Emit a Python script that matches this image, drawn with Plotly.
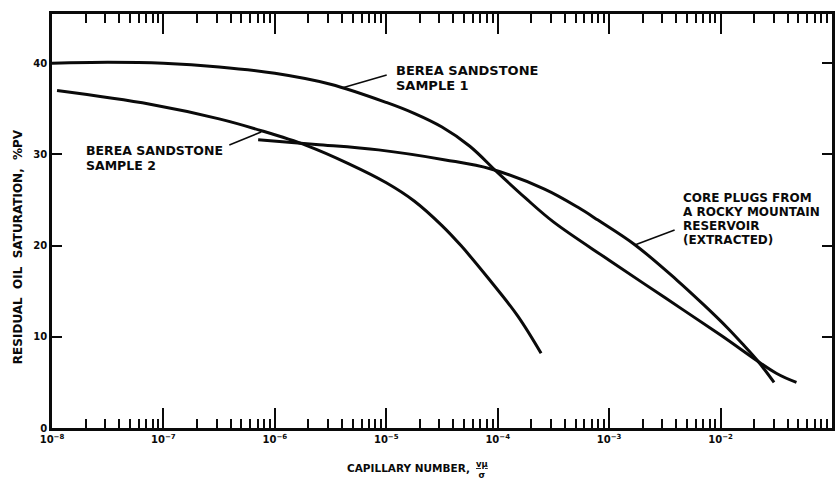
import plotly.graph_objects as go

# Capillary number (dimensionless) vs residual oil saturation (% PV)
berea1_nc = [1.0e-8, 3.16e-8, 1.0e-7, 3.16e-7, 1.0e-6, 3.16e-6, 1.0e-5, 1.78e-5,
             3.16e-5, 5.62e-5, 1.0e-4, 1.78e-4, 3.16e-4, 1.0e-3, 3.16e-3, 1.0e-2,
             3.16e-2, 4.8e-2]
berea1_sor = [40.0, 40.1, 40.0, 39.6, 38.9, 37.7, 35.7, 34.5,
              33.0, 30.9, 28.0, 25.2, 22.6, 18.4, 14.3, 10.2,
              6.0, 5.0]

berea2_nc = [1.11e-8, 7.59e-8, 3.16e-7, 7.59e-7, 1.91e-6, 4.57e-6, 1.0e-5, 1.78e-5,
             3.16e-5, 4.68e-5, 8.13e-5, 1.51e-4, 2.45e-4]
berea2_sor = [37.0, 35.5, 33.9, 32.6, 31.0, 29.0, 26.9, 24.9,
              22.2, 20.0, 16.5, 12.3, 8.2]

rocky_nc = [7.08e-7, 2.34e-6, 8.51e-6, 3.39e-5, 8.71e-5, 2.63e-4, 5.25e-4,
            7.94e-4, 1.70e-3, 4.07e-3, 7.08e-3, 1.15e-2, 1.58e-2, 2.14e-2, 3.02e-2]
rocky_sor = [31.6, 31.1, 30.5, 29.4, 28.4, 26.2, 24.2,
             22.8, 20.1, 16.2, 13.5, 11.0, 9.2, 7.4, 5.0]

x_tick_vals = [1e-8, 1e-7, 1e-6, 1e-5, 1e-4, 1e-3, 1e-2, 1e-1]
x_tick_text = ["10<sup>\u22128</sup>", "10<sup>\u22127</sup>", "10<sup>\u22126</sup>",
               "10<sup>\u22125</sup>", "10<sup>\u22124</sup>", "10<sup>\u22123</sup>",
               "10<sup>\u22122</sup>", "10<sup>\u22121</sup>"]
y_tick_vals = [0, 10, 20, 30, 40]
y_tick_text = ["0", "10", "20", "30", "40"]

W, H = 839, 479
M_L, M_R, M_T, M_B = 52, 4, 14, 51
PW, PH = W - M_L - M_R, H - M_T - M_B

FONT = "DejaVu Sans, Liberation Sans, Arial, sans-serif"
INK = "#0a0a0a"


def px(xp):
    return (xp - M_L) / PW


def py(yp):
    return (H - M_B - yp) / PH


fig = go.Figure()
for nc, sor in [(berea1_nc, berea1_sor), (berea2_nc, berea2_sor), (rocky_nc, rocky_sor)]:
    fig.add_trace(go.Scatter(x=nc, y=sor, mode="lines",
                             line=dict(color=INK, width=3, shape="spline", smoothing=1.0),
                             hoverinfo="skip", showlegend=False))

# minor log ticks 2..9 within each decade
minor_vals = [m * 10.0 ** e for e in range(-8, -1) for m in range(2, 10)]

fig.update_xaxes(type="log", range=[-8, -1], showgrid=False, zeroline=False,
                 showline=True, linecolor=INK, linewidth=2.5, mirror="allticks",
                 ticks="inside", ticklen=20, tickwidth=2, tickcolor=INK,
                 tickvals=x_tick_vals, ticktext=x_tick_text,
                 tickfont=dict(family=FONT, size=10, color=INK, weight="bold"),
                 minor=dict(tickvals=minor_vals, ticks="inside", ticklen=9,
                            tickwidth=1.5, tickcolor=INK, showgrid=False))
fig.update_yaxes(range=[0, 45.4], showgrid=False, zeroline=False,
                 showline=True, linecolor=INK, linewidth=2.5, mirror="allticks",
                 ticks="inside", ticklen=10, tickwidth=2, tickcolor=INK,
                 tickvals=y_tick_vals, ticktext=y_tick_text,
                 tickfont=dict(family=FONT, size=10, color=INK, weight="bold"))

annotations = []


def label(text, xp, yp, size=13):
    annotations.append(dict(text=text, x=px(xp), y=py(yp), xref="paper", yref="paper",
                            xanchor="left", yanchor="middle", showarrow=False,
                            font=dict(family=FONT, size=size, color=INK, weight="bold")))


label("BEREA SANDSTONE", 395, 70)
label("SAMPLE 1", 395, 85)
label("BEREA SANDSTONE", 84, 150, 12.5)
label("SAMPLE 2", 84, 166, 12.5)
label("CORE PLUGS FROM", 683, 198, 12)
label("A ROCKY MOUNTAIN", 683, 212, 12)
label("RESERVOIR", 683, 226, 12)
label("(EXTRACTED)", 683, 240, 12)

# axis titles
annotations.append(dict(text="RESIDUAL\u00a0\u00a0OIL\u00a0\u00a0SATURATION,\u00a0\u00a0%PV",
                        x=px(18), y=py(247), xref="paper", yref="paper",
                        xanchor="center", yanchor="middle", textangle=-90, showarrow=False,
                        font=dict(family=FONT, size=12, color=INK, weight="bold")))
annotations.append(dict(text="CAPILLARY NUMBER,", x=px(474), y=py(468),
                        xref="paper", yref="paper", xanchor="right", yanchor="middle",
                        showarrow=False,
                        font=dict(family=FONT, size=10.5, color=INK, weight="bold")))
annotations.append(dict(text="<u>v\u03bc</u><br>\u03c3", x=px(484), y=py(469),
                        xref="paper", yref="paper", xanchor="center", yanchor="middle",
                        showarrow=False,
                        font=dict(family=FONT, size=8.5, color=INK, weight="bold")))
fig.update_layout(annotations=annotations)

# leader lines from labels to their curves
leaders = [((343, 88), (388, 75)), ((262, 132), (230, 145)), ((637, 245), (677, 230))]
for (x0, y0), (x1, y1) in leaders:
    fig.add_shape(type="line", xref="paper", yref="paper",
                  x0=px(x0), y0=py(y0), x1=px(x1), y1=py(y1),
                  line=dict(color=INK, width=1.5))

fig.update_layout(width=W, height=H, margin=dict(l=M_L, r=M_R, t=M_T, b=M_B),
                  paper_bgcolor="white", plot_bgcolor="white",
                  font=dict(family=FONT, color=INK))

fig.write_html("out.html")
